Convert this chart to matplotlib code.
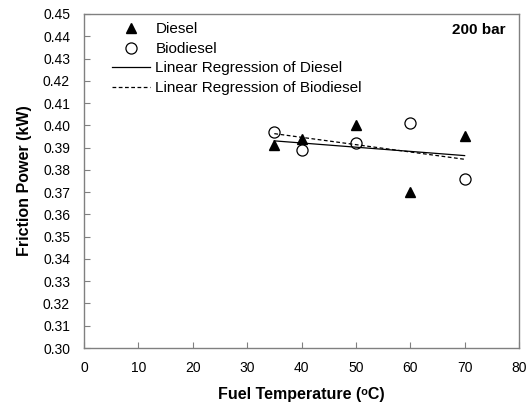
import matplotlib
matplotlib.use("Agg")
import matplotlib.pyplot as plt
import numpy as np

plt.rcParams['font.family'] = ['Liberation Sans', 'DejaVu Sans']

# Fuel temperature (C) and measured friction power (kW) at 200 bar
temp = [35, 40, 50, 60, 70]
diesel = [0.391, 0.394, 0.400, 0.370, 0.395]
biodiesel = [0.397, 0.389, 0.392, 0.401, 0.376]

x_ticks = list(range(0, 90, 10))
y_ticks = [round(0.30 + 0.01 * i, 2) for i in range(16)]

fig = plt.figure(figsize=(5.32, 4.03), dpi=100)
ax = fig.add_axes([84 / 532, 1 - 348 / 403, 435 / 532, 334 / 403])

ax.plot(temp, diesel, linestyle='none', marker='^', color='black',
        markersize=7, label='Diesel')
ax.plot(temp, biodiesel, linestyle='none', marker='o', markerfacecolor='white',
        markeredgecolor='black', markeredgewidth=0.9, markersize=8,
        label='Biodiesel')

# Linear fits over the measured temperature range
xs = np.array([min(temp), max(temp)])
kd = np.polyfit(temp, diesel, 1)
kb = np.polyfit(temp, biodiesel, 1)
ax.plot(xs, np.polyval(kd, xs), color='black', linewidth=0.9,
        label='Linear Regression of Diesel')
ax.plot(xs, np.polyval(kb, xs), color='black', linewidth=0.9,
        linestyle=(0, (3, 2)), label='Linear Regression of Biodiesel')

ax.set_xlim(0, 80)
ax.set_ylim(0.30, 0.45)
ax.set_xticks(x_ticks)
ax.set_yticks(y_ticks)
ax.set_yticklabels([f"{v:.2f}" for v in y_ticks])

for s in ax.spines.values():
    s.set_color('#808080')
    s.set_linewidth(1.0)
ax.tick_params(direction='in', length=4, color='#808080', labelsize=10)
ax.tick_params(axis='y', pad=10)
ax.tick_params(axis='x', pad=9)

ax.set_xlabel('Fuel Temperature (\u1d52C)', fontsize=11.5,
              fontweight='bold', labelpad=9,
              family=['Liberation Sans', 'DejaVu Sans'])
ax.set_ylabel('Friction Power (kW)', fontsize=11.5, fontweight='bold',
              labelpad=8)

ax.text(0.970, 0.952, '200 bar', transform=ax.transAxes, ha='right',
        va='center', fontsize=11, fontweight='bold')

ax.legend(loc='upper left', frameon=False, fontsize=11, handlelength=2.5,
          handletextpad=0.35, labelspacing=0.36, borderaxespad=0,
          borderpad=0, bbox_to_anchor=(0.064, 0.975))

fig.savefig('out.png', dpi=100)
